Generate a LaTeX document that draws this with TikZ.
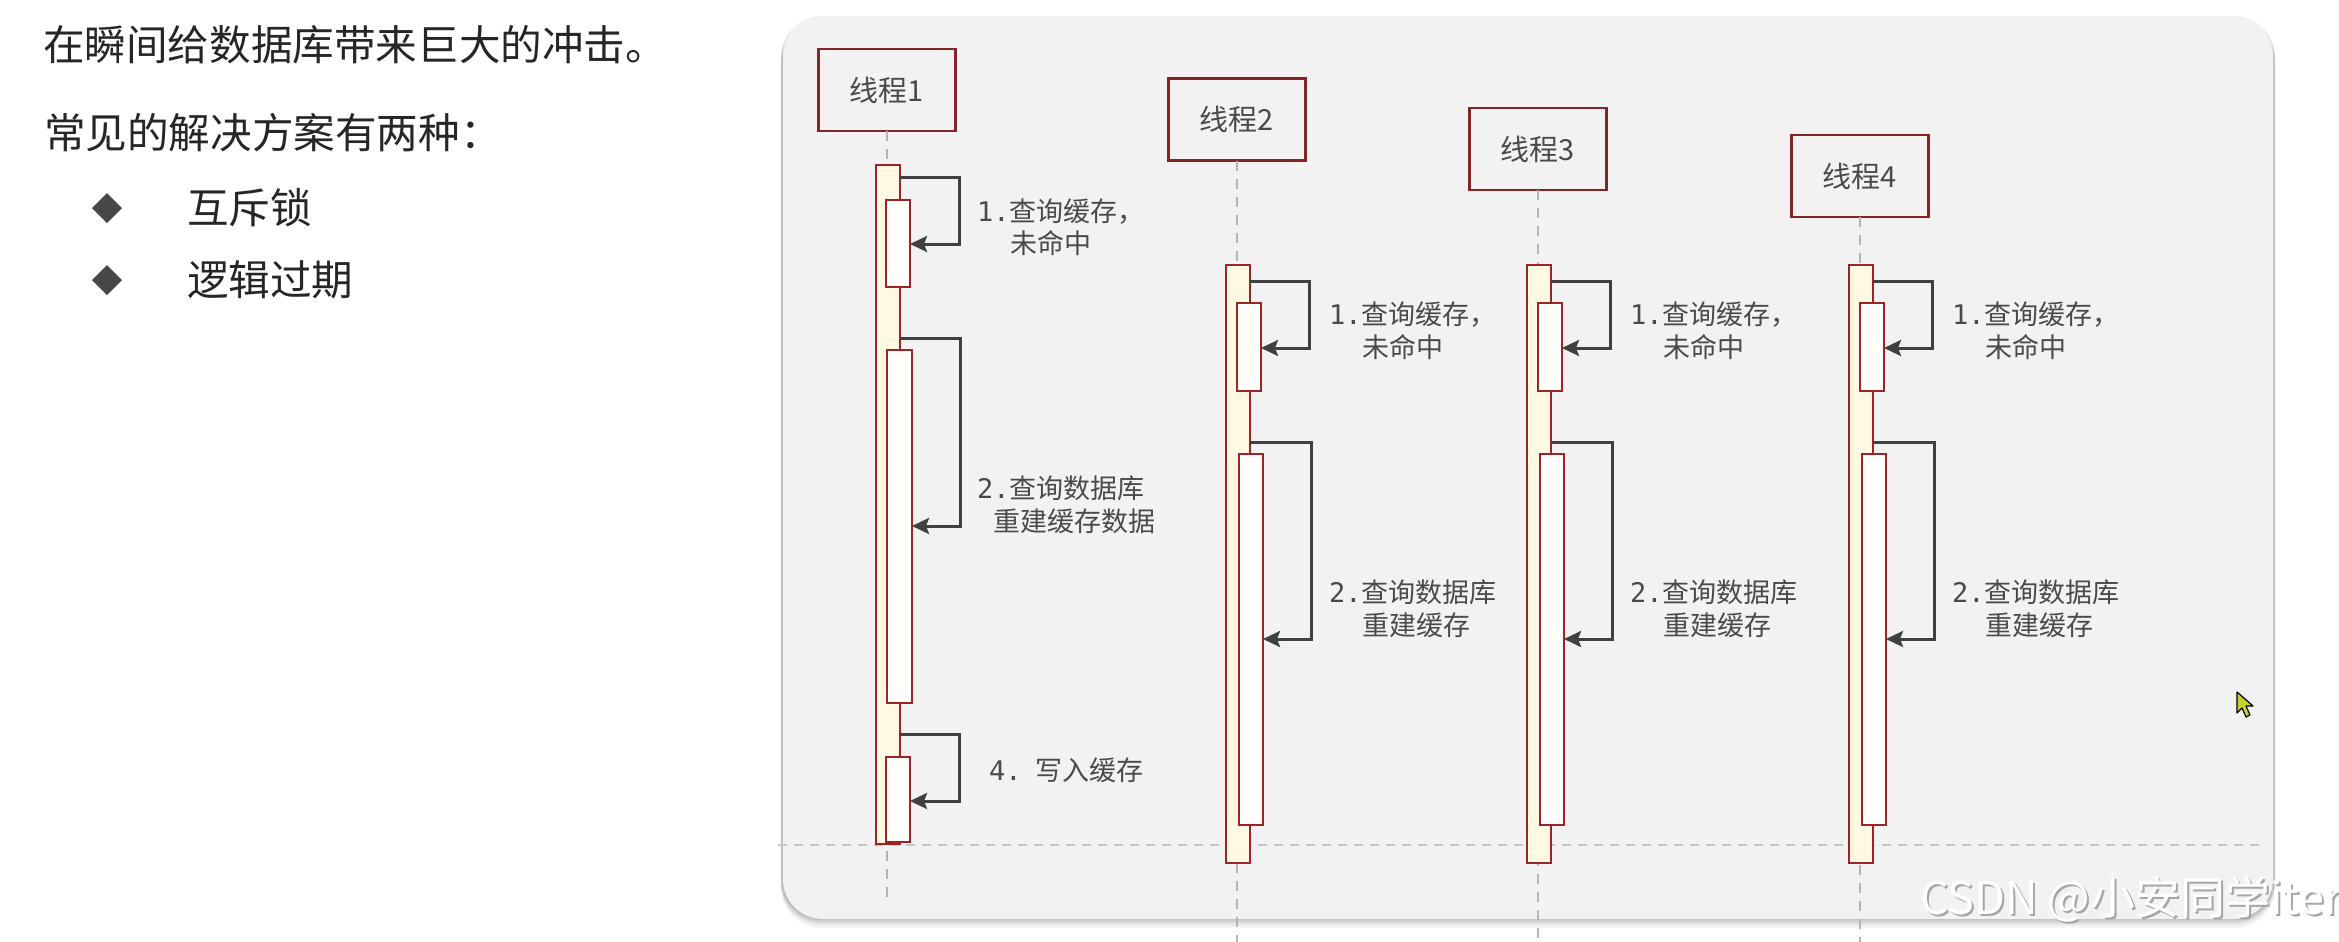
\documentclass[tikz,border=0pt]{standalone}
\usepackage{fontspec}
\newfontfamily\cjk{Noto Sans CJK SC}
\newfontfamily\monof{DejaVu Sans Mono}
\usetikzlibrary{arrows.meta}
\definecolor{panelc}{HTML}{F2F2F2}
\definecolor{boxred}{HTML}{842428}
\definecolor{barred}{HTML}{9A2426}
\definecolor{baryel}{HTML}{FFF9E3}
\definecolor{barwhite}{HTML}{FFFDFA}
\definecolor{arrowc}{HTML}{404040}
\definecolor{labelc}{HTML}{4A4A4A}
\definecolor{lifec}{HTML}{B8B4B4}
\definecolor{hdashc}{HTML}{C8C6BA}
\definecolor{txtc}{HTML}{262626}
\definecolor{cursorc}{HTML}{C8D02E}
% name, style, x1, y1, x2, y2 (pixel units)
\newcommand{\actbar}[6]{%
  \node[#2, minimum width={((#5)-(#3))*0.5pt}, minimum height={((#6)-(#4))*0.5pt}]
    (#1) at ({((#3)+(#5))/2},{((#4)+(#6))/2}) {};}
\begin{document}
\begin{tikzpicture}[x=0.5pt,y=-0.5pt,
  every node/.style={inner sep=0pt, outer sep=0pt},
  thread/.style={draw=boxred, line width=1.2pt, minimum width=68.5pt, minimum height=41pt,
    font=\cjk\fontsize{14.5}{17}\selectfont, text=labelc},
  outerbar/.style={draw=barred, fill=baryel, line width=1.1pt},
  innerbar/.style={draw=barred, fill=barwhite, line width=1.1pt},
  call/.style={draw=arrowc, line width=1.5pt, -{Stealth[length=8.5pt,width=8pt,inset=1.5pt]}},
  lifeline/.style={draw=lifec, line width=1pt, dash pattern=on 5pt off 4pt},
  lab/.style={anchor=west, text=labelc, font=\cjk\fontsize{13.5}{16}\selectfont},
  head/.style={anchor=west, text=txtc, font=\cjk\fontsize{20.8}{24}\selectfont},
  wmark/.style={anchor=west, font=\cjk\fontsize{22.5}{26}\selectfont},
]
\useasboundingbox (0,0) rectangle (2339,942);
\fill[white] (0,0) rectangle (2339,942);

% left text
\node[head] (h1) at (43,45) {在瞬间给数据库带来巨大的冲击。};
\node[head] (h2) at (44,133) {常见的解决方案有两种：};
\fill[txtc!85] (107,193) -- (122,208) -- (107,223) -- (92,208) -- cycle;
\fill[txtc!85] (107,265) -- (122,280) -- (107,295) -- (92,280) -- cycle;
\node[head] (s1) at (187,208) {互斥锁};
\node[head] (s2) at (187,280) {逻辑过期};

% panel with soft shadow
\foreach \d/\o in {9/0.03,7/0.04,5/0.05,3/0.07,1/0.08}
  \fill[black, opacity=\o, rounded corners=20pt] (781,{16+\d}) rectangle (2275,{919+\d});
\fill[panelc, rounded corners=20pt] (783,16) rectangle (2273,919);

% horizontal dashed line
\coordinate (hl) at (778,845);
\coordinate (hr) at (2262,845);
\draw[hdashc, line width=1pt, dash pattern=on 4.5pt off 3.5pt] (hl) -- (hr);

% thread headers
\node[thread] (t1) at (887,90) {线程1};
\node[thread] (t2) at (1237,119.5) {线程2};
\node[thread] (t3) at (1538,149) {线程3};
\node[thread] (t4) at (1860,176) {线程4};

% thread 1
\coordinate (e1) at (887,898);
\draw[lifeline] (t1.south) -- (e1);
\actbar{o1}{outerbar}{876}{165}{900}{844}
\actbar{a1}{innerbar}{886}{200}{910}{287}
\actbar{b1}{innerbar}{887}{350}{912}{703}
\actbar{c1}{innerbar}{886}{757}{910}{842}
\draw[call] (o1.east |- 0,177) -| (959,244) -- (a1.east |- 0,244);
\draw[call] (o1.east |- 0,338) -| (960,526) -- (b1.east |- 0,526);
\draw[call] (o1.east |- 0,734) -| (959,801) -- (c1.east |- 0,801);
\node[lab] (la1) at (977,212) {{\monof 1.}查询缓存，};
\node[lab] (lb1) at (1010,243) {未命中};
\node[lab] (lc1) at (977,488) {{\monof 2.}查询数据库};
\node[lab] (ld1) at (993,521) {重建缓存数据};
\node[lab] (le1) at (989,770) {{\monof 4.}\hspace{7pt}写入缓存};

% threads 2-4
\foreach \i/\cx in {2/1237,3/1538,4/1860} {
  \coordinate (e\i) at (\cx,942);
  \draw[lifeline] (t\i.south) -- (e\i);
  \actbar{o\i}{outerbar}{\cx-11}{265}{\cx+13}{863}
  \actbar{a\i}{innerbar}{\cx}{303}{\cx+24}{391}
  \actbar{b\i}{innerbar}{\cx+2}{454}{\cx+26}{825}
  \draw[call] (o\i.east |- 0,281) -| ({\cx+72},348) -- (a\i.east |- 0,348);
  \draw[call] (o\i.east |- 0,442) -| ({\cx+74},639) -- (b\i.east |- 0,639);
  \node[lab] (la\i) at ({\cx+92},315) {{\monof 1.}查询缓存，};
  \node[lab] (lb\i) at ({\cx+125},347) {未命中};
  \node[lab] (lc\i) at ({\cx+92},592) {{\monof 2.}查询数据库};
  \node[lab] (ld\i) at ({\cx+125},625) {重建缓存};
}

% cursor
\filldraw[fill=cursorc, draw=black, line width=0.6pt, line join=round]
  (2237,692) -- (2237,713) -- (2242,708) -- (2246,717) -- (2250,715) -- (2246,706) -- (2253,706) -- cycle;

% watermark
\node[wmark, text=black!35] (wm0) at (1922,901) {CSDN @小安同学iter};
\node[wmark, text=white] (wm) at (1920,899) {CSDN @小安同学iter};
\end{tikzpicture}
\end{document}
